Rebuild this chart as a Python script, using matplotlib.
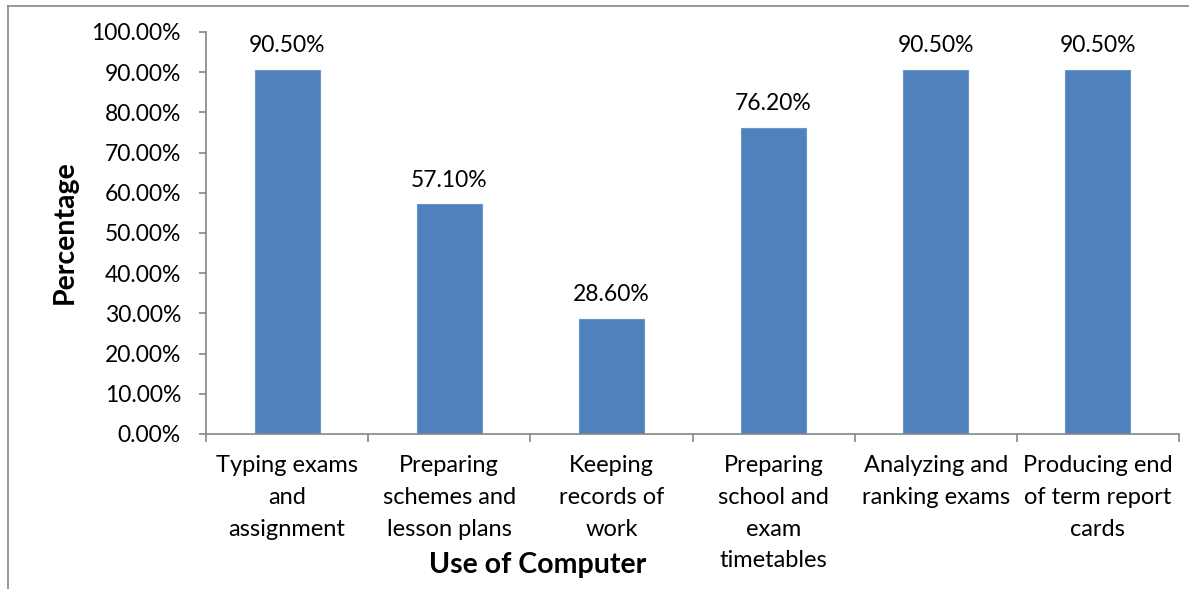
import matplotlib
matplotlib.use("Agg")
import matplotlib.pyplot as plt
from matplotlib.lines import Line2D

categories = ["Typing exams\nand\nassignment", "Preparing\nschemes and\nlesson plans",
              "Keeping\nrecords of\nwork", "Preparing\nschool and\nexam\ntimetables",
              "Analyzing and\nranking exams", "Producing end\nof term report\ncards"]
values = [90.5, 57.1, 28.6, 76.2, 90.5, 90.5]
yticks = [0, 10, 20, 30, 40, 50, 60, 70, 80, 90, 100]

plt.rcParams['font.family'] = ['Lato', 'DejaVu Sans']
W, H = 1189, 589
fig = plt.figure(figsize=(W/100, H/100), dpi=100)
ax = fig.add_axes([206/W, 1-434/H, (1179-206)/W, (434-32)/H])

x = list(range(len(values)))
ax.bar(x, values, width=0.4, color="#4F81BD", edgecolor="#6A95C8", linewidth=0.8)
ax.set_xlim(-0.5, len(values)-0.5)
ax.set_ylim(0, 100)
ax.set_yticks(yticks)
ax.set_yticklabels([f"{v:.2f}%" for v in yticks], fontsize=16.5)
ax.set_xticks([i - 0.5 for i in range(len(values)+1)])
ax.set_xticklabels([])
ax.set_xticks(x, minor=True)
ax.set_xticklabels(categories, minor=True, fontsize=17, linespacing=1.64)
ax.tick_params(axis='x', which='minor', length=0, pad=15)
ax.tick_params(axis='x', which='major', length=6, color="#868686", width=1.2)
ax.tick_params(axis='y', length=5, color="#868686", width=1.2, pad=13)
for s in ['top', 'right']:
    ax.spines[s].set_visible(False)
for s in ['left', 'bottom']:
    ax.spines[s].set_color("#868686")
    ax.spines[s].set_linewidth(1.2)

for xi, v in zip(x, values):
    ax.annotate(f"{v:.2f}%", (xi, v), xytext=(0, 10), textcoords='offset points',
                ha='center', va='bottom', fontsize=16.5)

fig.text(65/W, 1-232/H, "Percentage", fontsize=20.5, fontweight='bold',
         rotation=90, ha='center', va='center')
fig.text(538/W, 1-565/H, "Use of Computer", fontsize=20.5, fontweight='bold',
         ha='center', va='center')

# chart border
fig.add_artist(Line2D([8/W, 1], [1-6/H, 1-6/H], color="#868686", lw=1.2, transform=fig.transFigure))
fig.add_artist(Line2D([8/W, 8/W], [0, 1-6/H], color="#868686", lw=1.2, transform=fig.transFigure))

fig.savefig("out.png", dpi=100)
